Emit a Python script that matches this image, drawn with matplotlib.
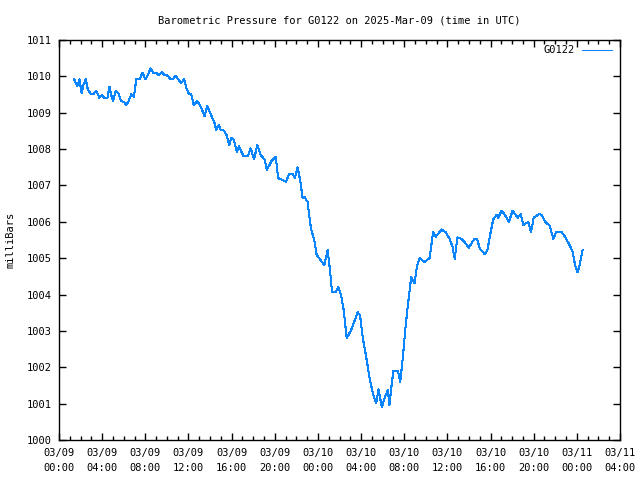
import datetime as dt
import matplotlib
matplotlib.use("Agg")
import matplotlib.pyplot as plt
import matplotlib.dates as mdates
from matplotlib.ticker import MultipleLocator

# hours since 2025-03-09 00:00 UTC
hours = [1.40, 1.70, 1.89, 2.11, 2.26, 2.48, 2.67, 2.95, 3.19, 3.44, 3.75, 3.97, 4.21, 4.49,
         4.68, 4.84, 5.00, 5.27, 5.52, 5.74, 6.05, 6.23, 6.45, 6.70, 6.95, 7.16, 7.47, 7.75,
         8.00, 8.25, 8.49, 8.74, 9.00, 9.24, 9.55, 9.77, 10.07, 10.33, 10.58, 10.79, 11.04,
         11.32, 11.60, 11.81, 12.03, 12.25, 12.49, 12.81, 13.05, 13.27, 13.49, 13.74, 13.95,
         14.20, 14.42, 14.58, 14.82, 15.00, 15.28, 15.53, 15.79, 15.97, 16.21, 16.49, 16.68,
         16.90, 17.09, 17.52, 17.77, 18.07, 18.39, 18.70, 19.07, 19.26, 19.69, 20.09, 20.31,
         20.72, 21.02, 21.33, 21.65, 21.86, 22.11, 22.35, 22.58, 22.73, 23.04, 23.35, 23.66,
         23.88, 24.59, 24.90, 25.12, 25.30, 25.67, 25.89, 26.14, 26.39, 26.67, 27.07, 27.69,
         27.91, 28.16, 28.47, 28.77, 29.09, 29.40, 29.61, 29.93, 30.17, 30.48, 30.63, 30.79,
         31.00, 31.41, 31.63, 31.88, 32.09, 32.34, 32.65, 32.96, 33.18, 33.42, 33.89, 34.35,
         34.67, 34.91, 35.47, 35.84, 36.21, 36.47, 36.68, 36.93, 37.30, 37.61, 37.98, 38.48,
         38.76, 39.00, 39.47, 39.72, 39.93, 40.25, 40.56, 40.72, 41.02, 41.40, 41.70, 42.05,
         42.51, 42.79, 43.04, 43.51, 43.75, 44.00, 44.49, 44.74, 45.12, 45.46, 45.83, 46.05,
         46.60, 46.91, 47.38, 47.60, 47.84, 48.07, 48.25, 48.53]

pressure = [1009.92, 1009.73, 1009.92, 1009.53, 1009.76, 1009.92, 1009.64, 1009.51, 1009.51,
            1009.61, 1009.41, 1009.49, 1009.41, 1009.41, 1009.72, 1009.49, 1009.32, 1009.61,
            1009.53, 1009.32, 1009.30, 1009.21, 1009.32, 1009.51, 1009.44, 1009.92, 1009.92,
            1010.10, 1009.92, 1010.04, 1010.22, 1010.10, 1010.10, 1010.04, 1010.11, 1010.04,
            1010.02, 1009.92, 1009.92, 1010.02, 1009.92, 1009.81, 1009.92, 1009.67, 1009.53,
            1009.51, 1009.21, 1009.32, 1009.21, 1009.07, 1008.91, 1009.19, 1009.03, 1008.87,
            1008.71, 1008.52, 1008.66, 1008.52, 1008.51, 1008.39, 1008.11, 1008.31, 1008.25,
            1007.91, 1008.08, 1007.93, 1007.81, 1007.81, 1008.02, 1007.72, 1008.11, 1007.84,
            1007.70, 1007.42, 1007.67, 1007.79, 1007.20, 1007.15, 1007.10, 1007.31, 1007.31,
            1007.20, 1007.50, 1007.15, 1006.65, 1006.69, 1006.55, 1005.82, 1005.50, 1005.09,
            1004.81, 1005.22, 1004.67, 1004.08, 1004.08, 1004.20, 1003.99, 1003.57, 1002.80,
            1003.02, 1003.51, 1003.42, 1002.80, 1002.29, 1001.74, 1001.28, 1001.01, 1001.39,
            1000.90, 1001.15, 1001.37, 1000.96, 1001.42, 1001.90, 1001.90, 1001.60, 1002.29,
            1003.02, 1003.71, 1004.49, 1004.31, 1004.77, 1005.00, 1004.90, 1005.00, 1005.71,
            1005.59, 1005.79, 1005.71, 1005.53, 1005.32, 1004.98, 1005.57, 1005.53, 1005.44,
            1005.29, 1005.52, 1005.52, 1005.27, 1005.11, 1005.24, 1005.59, 1006.07, 1006.19,
            1006.11, 1006.31, 1006.16, 1006.00, 1006.31, 1006.11, 1006.21, 1005.91, 1006.00,
            1005.71, 1006.11, 1006.21, 1006.19, 1005.98, 1005.91, 1005.53, 1005.71, 1005.71,
            1005.59, 1005.33, 1005.18, 1004.81, 1004.61, 1004.81, 1005.22]

series_label = "G0122"
title = "Barometric Pressure for G0122 on 2025-Mar-09 (time in UTC)"
ylabel = "milliBars"

base = dt.datetime(2025, 3, 9, 0, 0)
times = [base + dt.timedelta(hours=h) for h in hours]

mono = "DejaVu Sans Mono"
plt.rcParams["font.family"] = mono
plt.rcParams["font.size"] = 7.5

fig = plt.figure(figsize=(6.4, 4.8), dpi=100)
ax = fig.add_axes([59 / 640, 40 / 480, 561 / 640, 400 / 480])

ax.plot(times, pressure, color="#0a84ff", lw=0.75, label=series_label, antialiased=False)

ax.set_xlim(base, base + dt.timedelta(hours=52))
ax.set_ylim(1000, 1011)
ax.yaxis.set_major_locator(MultipleLocator(1))
ax.xaxis.set_major_locator(mdates.HourLocator(byhour=range(0, 24, 4)))
ax.xaxis.set_minor_locator(mdates.HourLocator())
ax.xaxis.set_major_formatter(mdates.DateFormatter("%m/%d\n%H:%M"))

ax.tick_params(which="both", direction="in", top=True, right=True, width=1, colors="black")
ax.tick_params(which="major", length=5, pad=6)
ax.tick_params(which="minor", length=3)
ax.tick_params(axis="y", pad=5)
for lab in ax.get_xticklabels():
    lab.set_linespacing(1.6)
for s in ax.spines.values():
    s.set_linewidth(1)

ax.set_title(title, fontsize=7.5, pad=12)
ax.set_ylabel(ylabel, labelpad=8)

leg = ax.legend(loc="upper right", frameon=False, handlelength=2.9, handletextpad=0.7,
                markerfirst=False, borderaxespad=0.1, bbox_to_anchor=(0.995, 1.0))

fig.savefig("out.png", dpi=100)
